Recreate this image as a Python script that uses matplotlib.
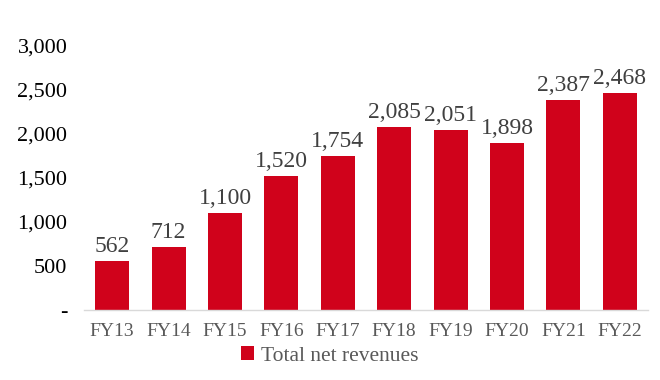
import matplotlib
matplotlib.use("Agg")
import matplotlib.pyplot as plt
from matplotlib.ticker import FuncFormatter

categories = ["FY13", "FY14", "FY15", "FY16", "FY17", "FY18", "FY19", "FY20", "FY21", "FY22"]
revenues = [562, 712, 1100, 1520, 1754, 2085, 2051, 1898, 2387, 2468]
series_name = "Total net revenues"
yticks = [0, 500, 1000, 1500, 2000, 2500, 3000]

plt.rcParams['font.family'] = ['Liberation Serif', 'DejaVu Serif']

fig = plt.figure(figsize=(6.6, 3.8), dpi=100)
ax = fig.add_axes([84/660, 70/380, (648-84)/660, (310-46)/380])

color = "#D0021B"
bars = ax.bar(categories, revenues, width=0.6, color=color, label=series_name)
for b, v in zip(bars, revenues):
    ax.text(b.get_x() + b.get_width()/2, v + 45, f"{v:,}", ha="center", va="bottom",
            fontsize=17, color="#404040")

ax.set_ylim(0, 3000)
ax.set_xlim(-0.5, len(categories) - 0.5)
ax.set_yticks(yticks)
ax.yaxis.set_major_formatter(FuncFormatter(lambda v, p: "-" if v == 0 else f"{int(v):,}"))
ax.tick_params(axis="y", length=0, labelsize=16, labelcolor="black", pad=12)
ax.tick_params(axis="x", length=0, labelsize=14, labelcolor="#595959", pad=9)
for s in ["top", "right", "left"]:
    ax.spines[s].set_visible(False)
ax.spines["bottom"].set_color("#D9D9D9")
ax.spines["bottom"].set_linewidth(1)

fig.legend(handles=[bars], labels=[series_name], loc="center", bbox_to_anchor=(0.5, (380-356)/380),
           frameon=False, fontsize=15.5, handlelength=0.6, handleheight=0.6, handletextpad=0.35,
           labelcolor="#595959")

fig.savefig("out.png", dpi=100)
